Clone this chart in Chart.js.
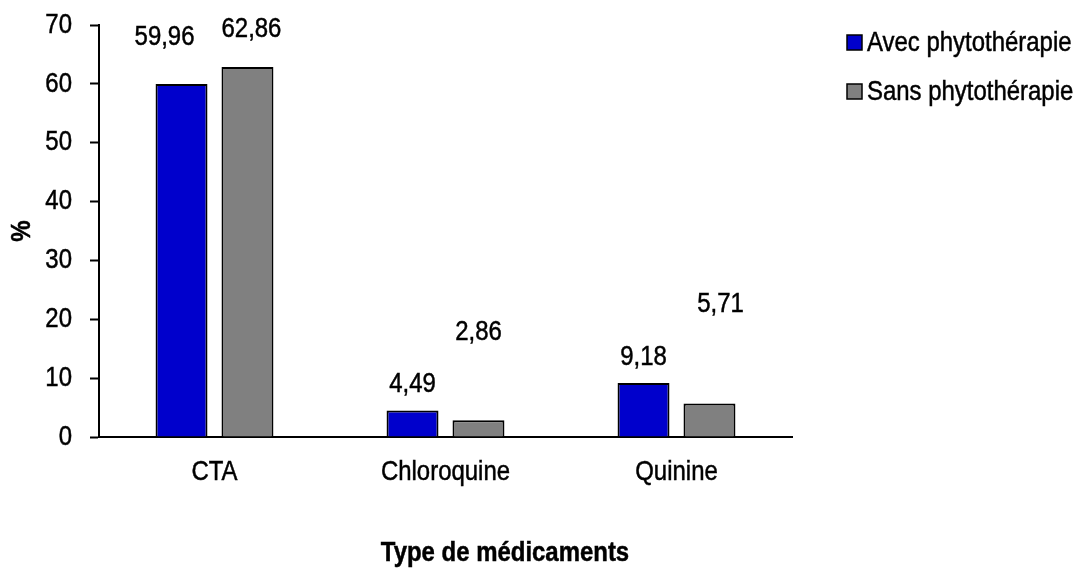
<!DOCTYPE html>
<html>
<head>
<meta charset="utf-8">
<script src="https://cdn.jsdelivr.net/npm/chart.js@4"></script>
<style>
  html, body { margin: 0; padding: 0; background: #fff; }
  #wrap { width: 1078px; height: 570px; }
</style>
</head>
<body>
<div id="wrap"><canvas id="chart" width="1078" height="570"></canvas></div>
<script>
// chart data
const categories = ['CTA', 'Chloroquine', 'Quinine'];
const avecValues = [59.96, 4.49, 9.18];
const sansValues = [62.86, 2.86, 5.71];
const seriesNames = ['Avec phytothérapie', 'Sans phytothérapie'];
const yTicks = [0, 10, 20, 30, 40, 50, 60, 70];

// where the value labels sit (in axis units), as in the original chart
const avecLabelAt = [67.9, 9.0, 13.6];
const sansLabelAt = [69.3, 17.8, 22.6];

const FONT = "'Liberation Sans', Arial, sans-serif";
const FSIZE = 28;
const NARROW = 0.855; // the original uses a narrow face, squeeze the text

const fmt = (v) => v.toFixed(2).replace('.', ',');

// draw text squeezed horizontally
function narrowText(ctx, text, x, y, align, bold) {
  ctx.save();
  ctx.font = (bold ? 'bold ' : '') + FSIZE + 'px ' + FONT;
  ctx.textAlign = align;
  ctx.textBaseline = 'middle';
  ctx.fillStyle = '#000';
  ctx.strokeStyle = '#000';
  ctx.lineWidth = 0.5;
  ctx.translate(x, y);
  ctx.scale(NARROW, 1);
  ctx.fillText(text, 0, 0);
  ctx.strokeText(text, 0, 0);
  ctx.restore();
}

// tick labels, value labels, axis titles and legend drawn by hand
const extras = {
  id: 'extras',
  afterDatasetsDraw(chart) {
    const ctx = chart.ctx;
    const xs = chart.scales.x;
    const ys = chart.scales.y;

    yTicks.forEach(v => narrowText(ctx, String(v), 72, ys.getPixelForValue(v), 'right'));
    categories.forEach((c, i) => narrowText(ctx, c, xs.getPixelForValue(i), 472, 'center'));

    const nudges = [[-17, 0, 0], [4, 0, 11]];
    [avecLabelAt, sansLabelAt].forEach((pos, d) => {
      const meta = chart.getDatasetMeta(d);
      meta.data.forEach((bar, i) => {
        const val = chart.data.datasets[d].data[i];
        narrowText(ctx, fmt(val), bar.x + nudges[d][i], ys.getPixelForValue(pos[i]), 'center');
      });
    });

    // axis titles
    narrowText(ctx, 'Type de médicaments', 505, 553, 'center', true);
    ctx.save();
    ctx.translate(22, 231);
    ctx.rotate(-Math.PI / 2);
    narrowText(ctx, '%', 0, 0, 'center', true);
    ctx.restore();

    // legend
    chart.data.datasets.forEach((ds, d) => {
      const cy = 43 + d * 49;
      ctx.save();
      ctx.fillStyle = ds.backgroundColor;
      ctx.fillRect(847, cy - 8, 15, 15);
      ctx.strokeStyle = '#000';
      ctx.lineWidth = 1.5;
      ctx.strokeRect(847, cy - 8, 15, 15);
      ctx.restore();
      narrowText(ctx, ds.label, 867, cy, 'left');
    });
  }
};

const config = {
  type: 'bar',
  data: {
    labels: categories,
    datasets: [
      {
        label: seriesNames[0],
        data: avecValues,
        backgroundColor: '#0000CC',
        borderColor: '#000',
        borderWidth: 2,
        borderSkipped: 'bottom',
        categoryPercentage: 0.571,
        barPercentage: 0.788,
      },
      {
        label: seriesNames[1],
        data: sansValues,
        backgroundColor: '#808080',
        borderColor: '#000',
        borderWidth: 2,
        borderSkipped: 'bottom',
        categoryPercentage: 0.571,
        barPercentage: 0.788,
      },
    ],
  },
  options: {
    responsive: false,
    animation: false,
    layout: { padding: { top: 25, right: 286, left: 0, bottom: 0 } },
    scales: {
      x: {
        grid: { display: false, drawTicks: false },
        border: { color: '#000', width: 2 },
        ticks: { display: false },
        afterFit(scale) { scale.height = 133; },
      },
      y: {
        min: 0,
        max: 70,
        afterBuildTicks(scale) { scale.ticks = yTicks.map(v => ({ value: v })); },
        grid: { display: true, drawOnChartArea: false, drawTicks: true, tickLength: 9, tickColor: '#000', tickWidth: 2 },
        border: { color: '#000', width: 2 },
        ticks: { display: false },
        afterFit(scale) { scale.width = 99; },
      },
    },
    plugins: {
      legend: { display: false },
      tooltip: { enabled: false },
    },
  },
  plugins: [extras],
};

const myChart = new Chart(document.getElementById('chart'), config);
</script>
</body>
</html>
